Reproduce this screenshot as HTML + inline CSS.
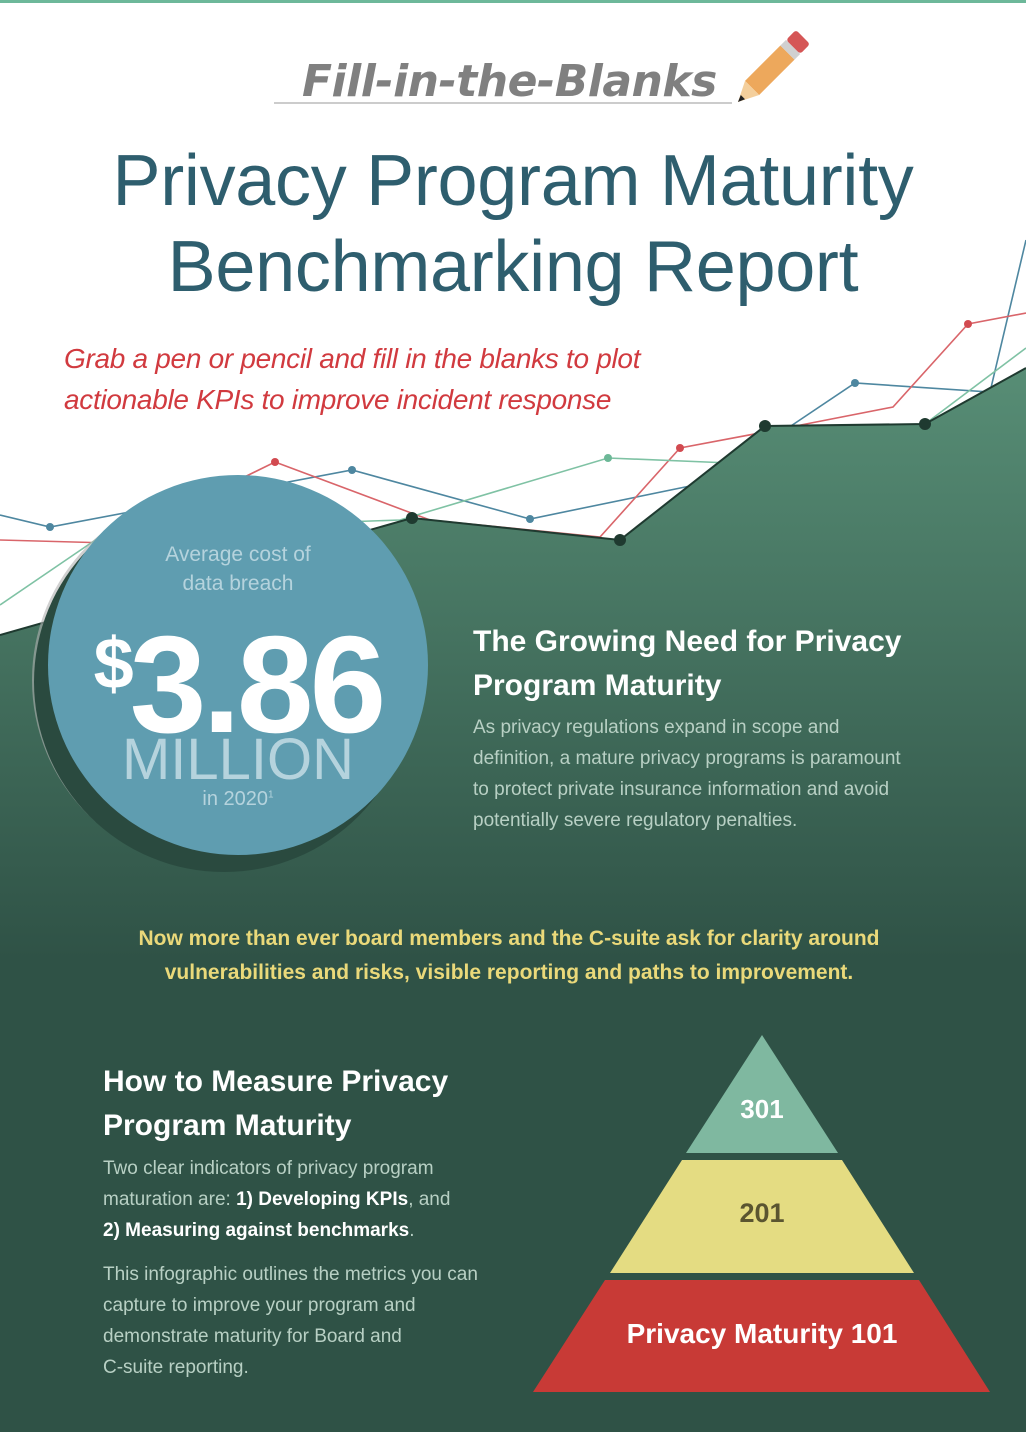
<!DOCTYPE html>
<html><head><style>
body{margin:0;width:1026px;height:1432px;position:relative;overflow:hidden;background:#fff;font-family:"Liberation Sans",sans-serif}
.a{position:absolute}
</style></head><body>
<svg class="a" style="left:0;top:0" width="1026" height="1432">
<defs>
<linearGradient id="g" gradientUnits="userSpaceOnUse" x1="0" y1="370" x2="0" y2="960">
<stop offset="0" stop-color="#578d75"/><stop offset="1" stop-color="#2f5246"/></linearGradient>
</defs>
<rect x="0" y="0" width="1026" height="3" fill="#6db89a"/>
<line x1="274" y1="103" x2="732" y2="103" stroke="#ccc" stroke-width="2"/>
<g transform="translate(762,78) rotate(45)">
<rect x="-10" y="-36" width="20" height="50" fill="#eda85c"/>
<rect x="-10" y="-44" width="20" height="8" fill="#d0d0d0"/>
<rect x="-10" y="-58" width="20" height="14" rx="3" fill="#d55656"/>
<polygon points="-10,14 10,14 0,34" fill="#f4cf9c"/><polygon points="-3,27 3,27 0,34" fill="#222"/>
</g>
<g fill="none" stroke-width="1.6">
<polyline stroke="#4e87a0" points="0,515 50,527 352,470 530,519 690,486 770,440 855,383 990,392 1026,240"/>
<polyline stroke="#d9656a" points="0,540 110,543 275,462 430,520 600,537 680,448 765,432 893,407 968,324 1026,313"/>
<polyline stroke="#7fc2a4" points="0,605 110,530 400,520 608,458 730,463 925,424 1026,348"/>
</g>
<g fill="#4e87a0"><circle cx="50" cy="527" r="4"/><circle cx="352" cy="470" r="4"/><circle cx="530" cy="519" r="4"/><circle cx="855" cy="383" r="4"/></g>
<g fill="#d24a50"><circle cx="275" cy="462" r="4"/><circle cx="680" cy="448" r="4"/><circle cx="968" cy="324" r="4"/></g>
<circle cx="608" cy="458" r="4" fill="#6cb897"/>
<polygon points="0,635 412,518 620,540 765,426 925,424 1026,368 1026,1432 0,1432" fill="url(#g)"/>
<rect x="0" y="959" width="1026" height="473" fill="#2f5246"/>
<polyline fill="none" stroke="#1f3a30" stroke-width="2" points="0,635 412,518 620,540 765,426 925,424 1026,368"/>
<g fill="#1f3a30"><circle cx="412" cy="518" r="6"/><circle cx="620" cy="540" r="6"/><circle cx="765" cy="426" r="6"/><circle cx="925" cy="424" r="6"/></g>
<circle cx="222" cy="680" r="190" fill="#b0b0b0" opacity=".6"/>
<circle cx="224" cy="682" r="190" fill="#2a4a3f"/>
<circle cx="238" cy="665" r="190" fill="#5f9db0"/>
<polygon points="762,1035 838,1153 686,1153" fill="#7fb8a0"/>
<polygon points="682,1160 842,1160 914,1273 610,1273" fill="#e4dc82"/>
<polygon points="605,1280 919,1280 990,1392 533,1392" fill="#c83a36"/>
</svg>
<div class="a" style="left:302px;top:56px;font-size:44px;font-style:italic;font-weight:bold;color:#808080;font-family:'DejaVu Sans',sans-serif;letter-spacing:-0.5px;transform:scaleX(1.0);transform-origin:left">Fill-in-the-Blanks</div>
<div class="a" style="left:0;width:1026px;top:138px;text-align:center;font-size:72px;line-height:86px;color:#2e5e6e;letter-spacing:-0.3px">Privacy Program Maturity<br>Benchmarking Report</div>
<div class="a" style="left:64px;top:338px;font-size:28px;line-height:41px;font-style:italic;color:#d13a3f;letter-spacing:-0.3px">Grab a pen or pencil and fill in the blanks to plot<br>actionable KPIs to improve incident response</div>
<div class="a" style="left:48px;width:380px;top:540px;text-align:center;color:#b5d3dd;font-size:21px;line-height:29px">Average cost of<br>data breach</div>
<div class="a" style="left:48px;width:380px;top:594px;text-align:center;color:#fff;font-weight:bold;font-size:138px;line-height:140px;letter-spacing:-4px"><span style="font-size:72px;vertical-align:44px">$</span>3.86</div>
<div class="a" style="left:48px;width:380px;top:728px;text-align:center;color:#b5d3dd;font-size:58px;line-height:64px">MILLION</div>
<div class="a" style="left:48px;width:380px;top:788px;text-align:center;color:#b5d3dd;font-size:20px">in 2020<sup style="font-size:10px">1</sup></div>
<div class="a" style="left:473px;top:620px;color:#fff;font-weight:bold;font-size:30px;line-height:44px">The Growing Need for Privacy<br>Program Maturity</div>
<div class="a" style="left:473px;top:712px;color:#b8d0c4;font-size:19px;line-height:31px">As privacy regulations expand in scope and<br>definition, a mature privacy programs is paramount<br>to protect private insurance information and avoid<br>potentially severe regulatory penalties.</div>
<div class="a" style="left:0;width:1018px;top:922px;text-align:center;color:#ead97a;font-weight:bold;font-size:21px;line-height:34px">Now more than ever board members and the C-suite ask for clarity around<br>vulnerabilities and risks, visible reporting and paths to improvement.</div>
<div class="a" style="left:103px;top:1060px;color:#fff;font-weight:bold;font-size:30px;line-height:44px">How to Measure Privacy<br>Program Maturity</div>
<div class="a" style="left:103px;top:1153px;color:#b8d0c4;font-size:19px;line-height:31px">Two clear indicators of privacy program<br>maturation are: <b style="color:#fff">1) Developing KPIs</b>, and<br><b style="color:#fff">2) Measuring against benchmarks</b>.</div>
<div class="a" style="left:103px;top:1259px;color:#b8d0c4;font-size:19px;line-height:31px">This infographic outlines the metrics you can<br>capture to improve your program and<br>demonstrate maturity for Board and<br>C-suite reporting.</div>
<div class="a" style="left:662px;width:200px;top:1094px;text-align:center;color:#fff;font-weight:bold;font-size:26px">301</div>
<div class="a" style="left:662px;width:200px;top:1198px;text-align:center;color:#5a5530;font-weight:bold;font-size:27px">201</div>
<div class="a" style="left:562px;width:400px;top:1318px;text-align:center;color:#fff;font-weight:bold;font-size:28px">Privacy Maturity 101</div>
</body></html>
